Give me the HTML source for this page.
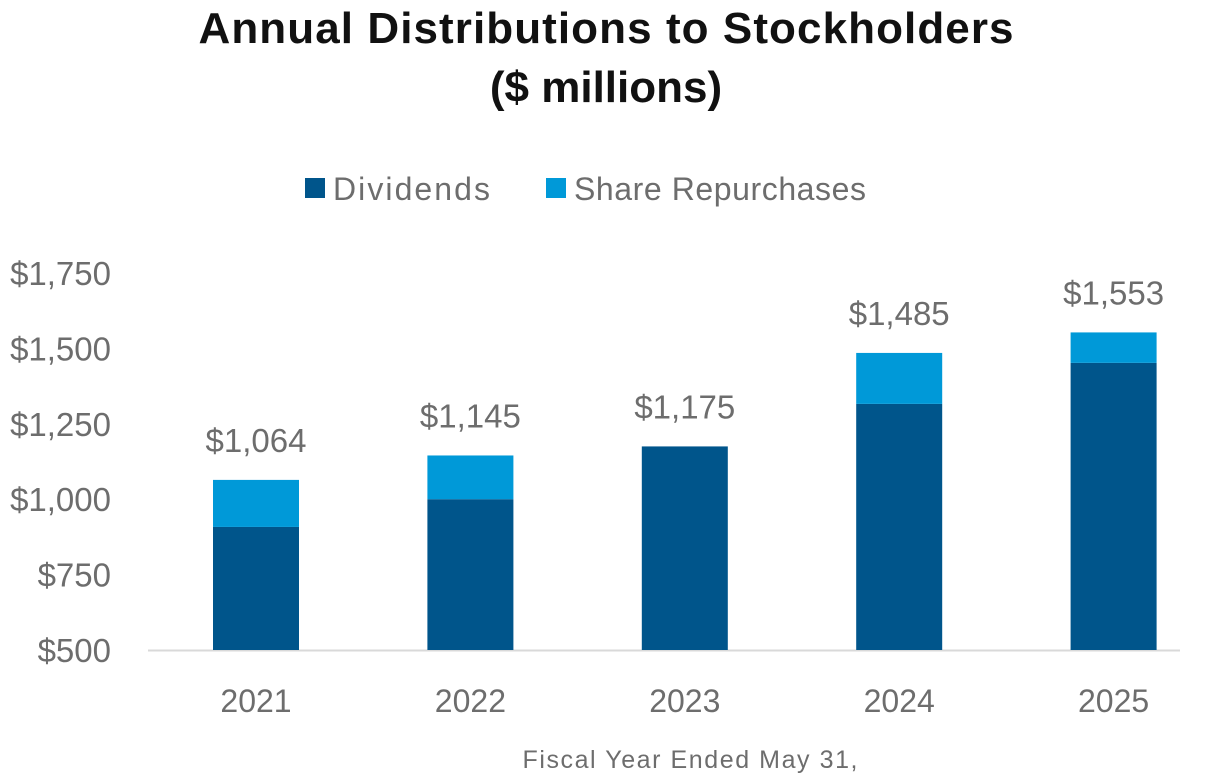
<!DOCTYPE html>
<html><head><meta charset="utf-8"><style>
body{margin:0;background:#fff;width:1223px;height:774px;overflow:hidden;font-family:"Liberation Sans",sans-serif}
</style></head><body>
<svg id="c" width="1223" height="774">
<text x="606" y="43" text-anchor="middle" font-size="44" font-weight="bold" fill="#111" textLength="815">Annual Distributions to Stockholders</text>
<text x="606" y="102" text-anchor="middle" font-size="44" font-weight="bold" fill="#111">($ millions)</text>
<g>
<rect x="305" y="178" width="20" height="20" fill="#00558B"/>
<text x="333" y="200" font-size="32" fill="#6d6d6d" textLength="157">Dividends</text>
<rect x="546" y="178" width="20" height="20" fill="#0099D8"/>
<text x="574" y="200" font-size="32" fill="#6d6d6d" textLength="292">Share Repurchases</text>
</g>
<line x1="148" y1="650.5" x2="1180" y2="650.5" stroke="#d9d9d9" stroke-width="2"/>
<text x="690" y="768" text-anchor="middle" font-size="25" fill="#6d6d6d" textLength="335">Fiscal Year Ended May 31,</text>
<g id="g"></g>
</svg>
<script>
const years=["2021","2022","2023","2024","2025"];
const dividends=[908,1000,1175,1316,1452];
const totals=[1064,1145,1175,1485,1553];
const yTicks=[500,750,1000,1250,1500,1750];
const tickLabels=["$500","$750","$1,000","$1,250","$1,500","$1,750"];
const totalLabels=["$1,064","$1,145","$1,175","$1,485","$1,553"];
const NS="http://www.w3.org/2000/svg",g=document.getElementById('g');
const y=v=>650-(v-500)*75.4/250;
const x=i=>256+i*214.4;
function mk(t,a,txt){const e=document.createElementNS(NS,t);for(const k in a)e.setAttribute(k,a[k]);if(txt)e.textContent=txt;g.appendChild(e);return e;}
yTicks.forEach((v,i)=>{const e=mk('text',{x:111,y:y(v)+12,'text-anchor':'end','font-size':33,fill:'#6d6d6d'},tickLabels[i]);

});
years.forEach((yr,i)=>{const w=86,cx=x(i);
const d=mk('rect',{x:cx-w/2,y:y(dividends[i]),width:w,height:650-y(dividends[i]),fill:'#00558B'});


const r=mk('rect',{x:cx-w/2,y:y(totals[i]),width:w,height:y(dividends[i])-y(totals[i]),fill:'#0099D8'});


const t=mk('text',{x:cx,y:y(totals[i])-28,'text-anchor':'middle','font-size':33,fill:'#6d6d6d'},totalLabels[i]);


const xl=mk('text',{x:cx,y:712,'text-anchor':'middle','font-size':32,fill:'#6d6d6d'},yr);

});
</script>
</body></html>
